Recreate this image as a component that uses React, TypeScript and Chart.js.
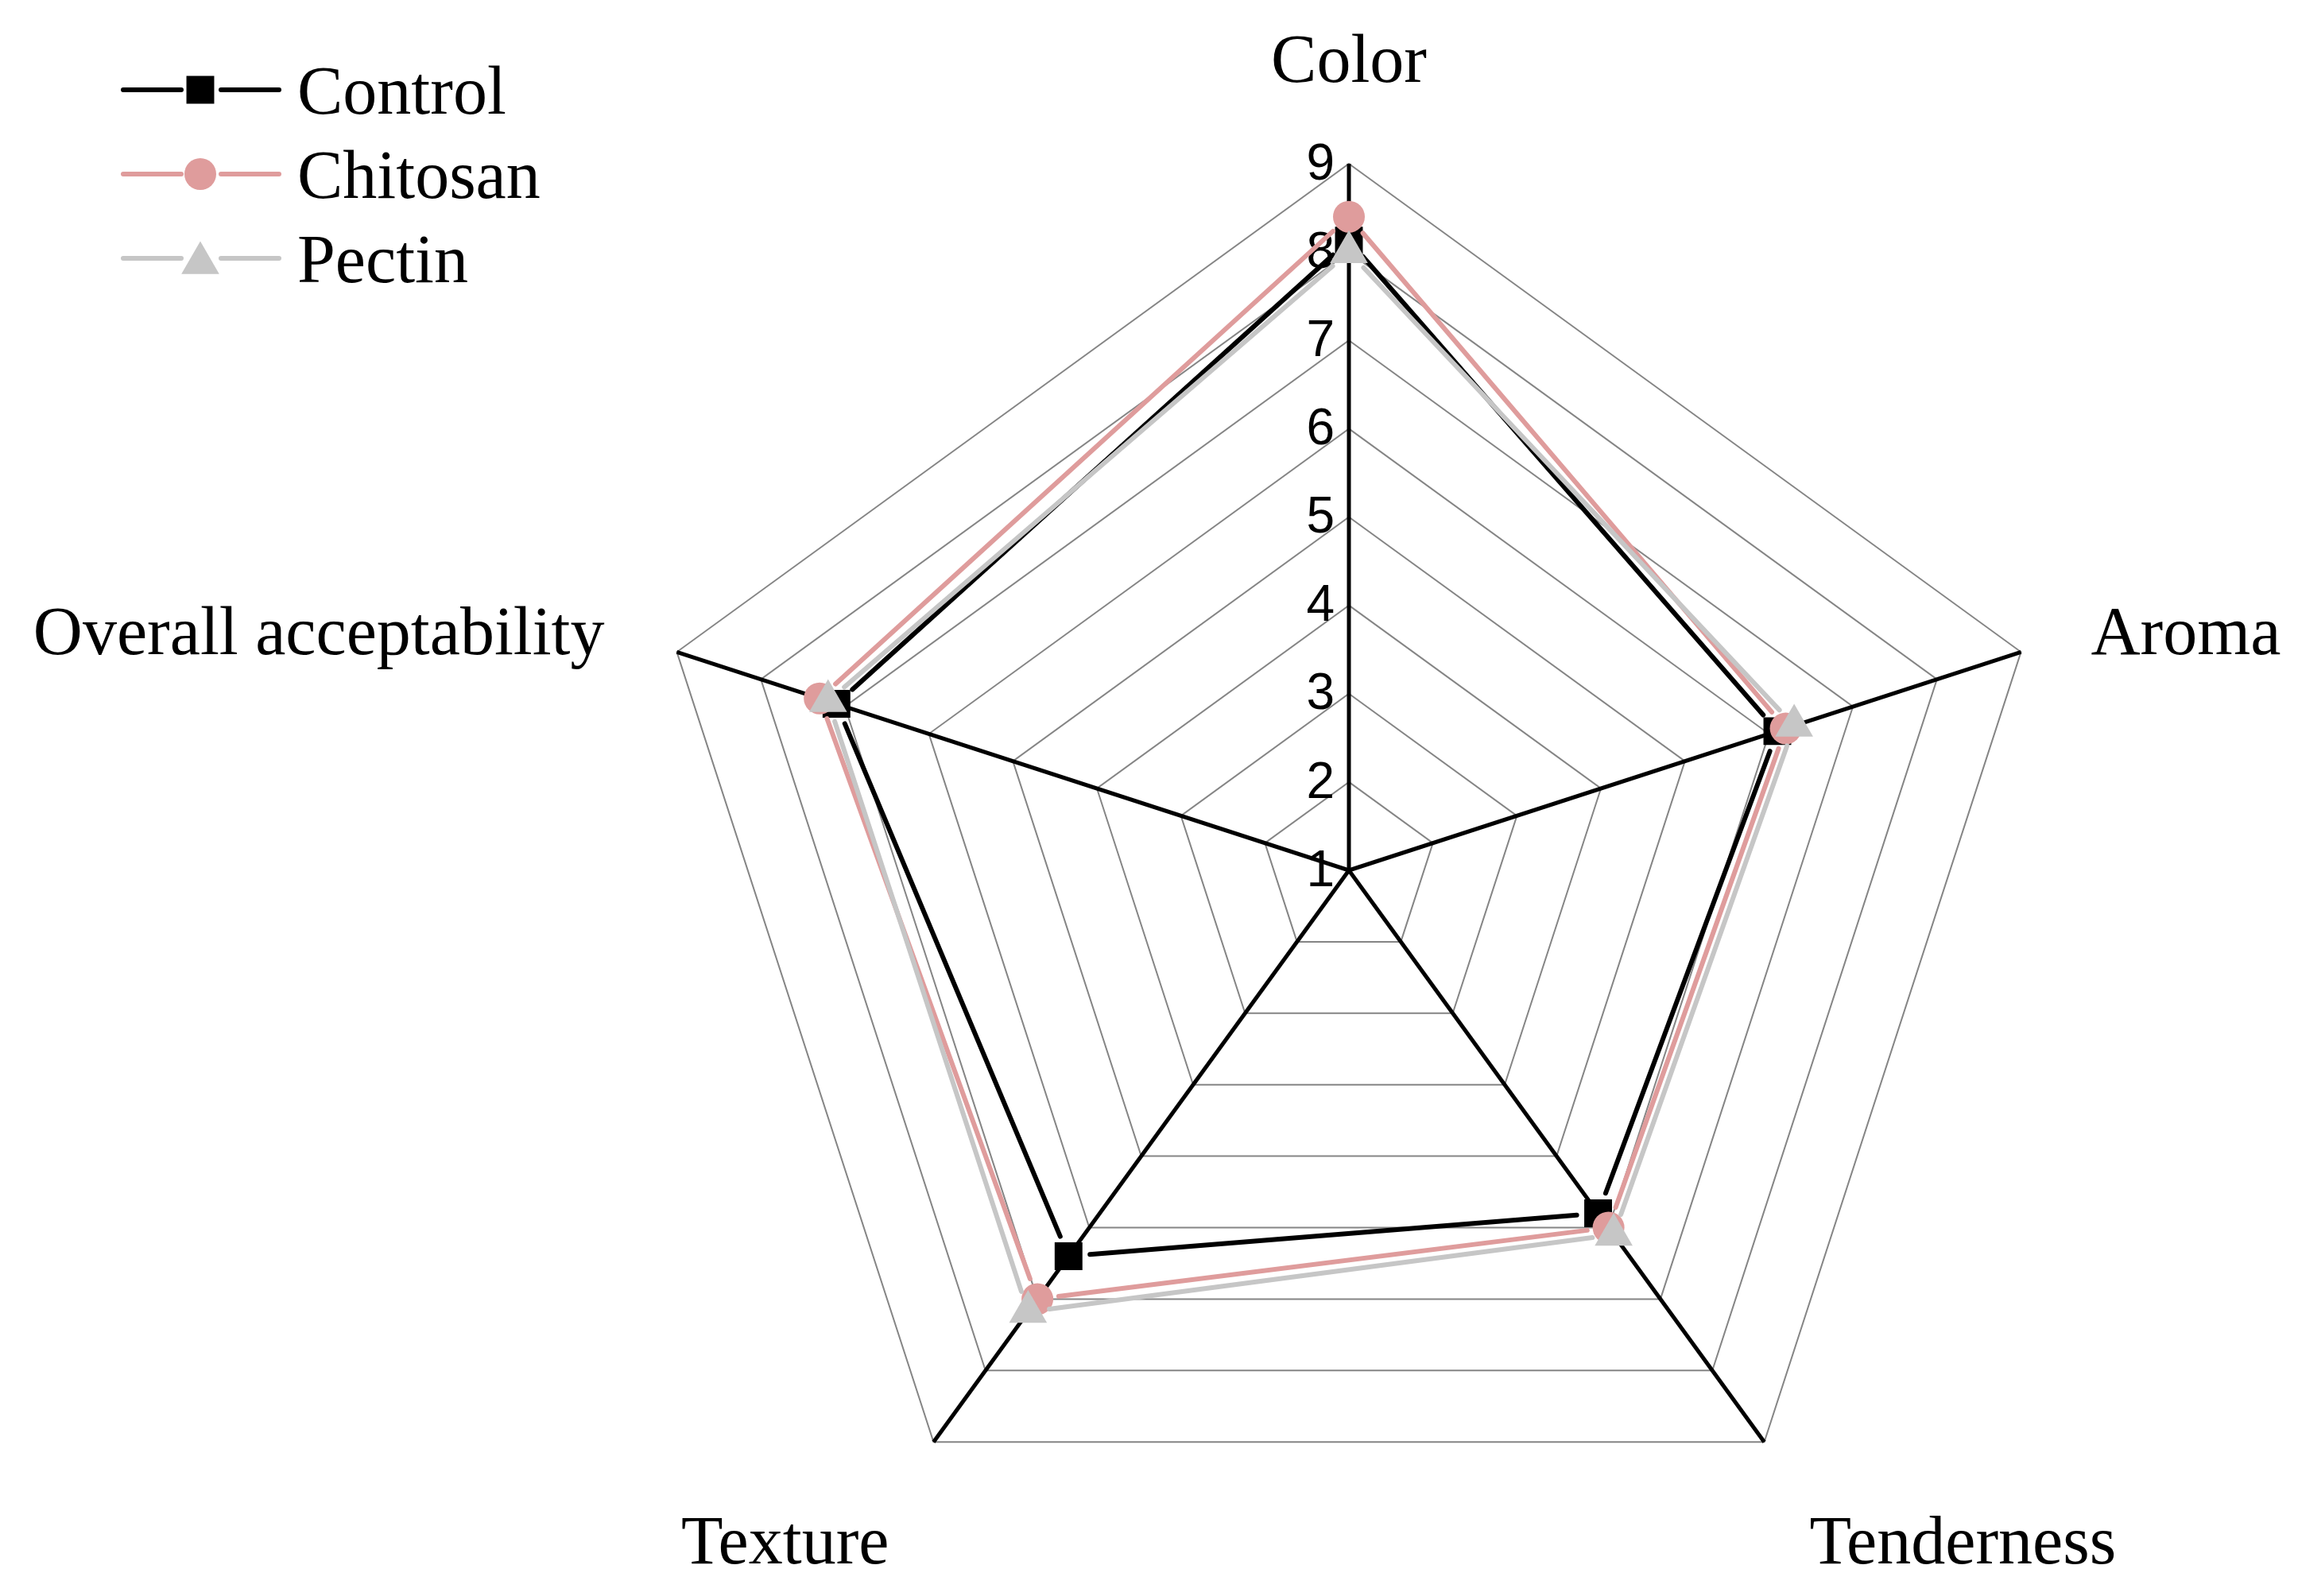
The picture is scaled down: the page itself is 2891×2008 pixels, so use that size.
import React, { useEffect, useRef } from "react";
import { Chart, registerables } from "chart.js";

Chart.register(...registerables);

// ---------- data ----------
const categories = ["Color", "Aroma", "Tenderness", "Texture", "Overall acceptability"];
const seriesNames = ["Control", "Chitosan", "Pectin"];
const controlValues = [8.13, 6.1, 5.8, 6.4, 7.1];
const chitosanValues = [8.4, 6.2, 6.0, 7.0, 7.3];
const pectinValues = [8.0, 6.3, 6.1, 7.18, 7.2];
const tickLabels = ["1", "2", "3", "4", "5", "6", "7", "8", "9"];
const scaleMin = 1;
const scaleMax = 9;

// ---------- style ----------
const W = 2891;
const H = 2008;
const SERIF = '"Liberation Serif", "Times New Roman", serif';
const SANS = '"Liberation Sans", Arial, sans-serif';
const COLORS = ["#000000", "#DF9C9C", "#C6C6C6"];
const STYLES = ["rect", "circle", "triangle"];
const RADII = [24.7, 20, 27.5];
const LINE_W = 6;
const GAP = 27;

function drawMarker(ctx: CanvasRenderingContext2D, style: string, x: number, y: number, r: number, color: string) {
  ctx.save();
  ctx.fillStyle = color;
  ctx.beginPath();
  if (style === "rect") {
    const s = Math.SQRT1_2 * r;
    ctx.rect(x - s, y - s, 2 * s, 2 * s);
  } else if (style === "circle") {
    ctx.arc(x, y, r, 0, Math.PI * 2);
  } else {
    let a = 0;
    ctx.moveTo(x + Math.sin(a) * r, y - Math.cos(a) * r);
    a += (2 * Math.PI) / 3;
    ctx.lineTo(x + Math.sin(a) * r, y - Math.cos(a) * r);
    a += (2 * Math.PI) / 3;
    ctx.lineTo(x + Math.sin(a) * r, y - Math.cos(a) * r);
    ctx.closePath();
  }
  ctx.fill();
  ctx.restore();
}

const gappedLines = {
  id: "gappedLines",
  beforeDatasetDraw(chart: any, args: any) {
    const ds = chart.data.datasets[args.index];
    const pts = args.meta.data;
    const ctx = chart.ctx;
    ctx.save();
    ctx.strokeStyle = ds.borderColor;
    ctx.lineWidth = LINE_W;
    ctx.lineCap = "round";
    for (let i = 0; i < pts.length; i++) {
      const a = pts[i];
      const b = pts[(i + 1) % pts.length];
      const dx = b.x - a.x;
      const dy = b.y - a.y;
      const len = Math.hypot(dx, dy);
      if (len <= 2 * GAP) continue;
      const ux = dx / len;
      const uy = dy / len;
      ctx.beginPath();
      ctx.moveTo(a.x + ux * GAP, a.y + uy * GAP);
      ctx.lineTo(b.x - ux * GAP, b.y - uy * GAP);
      ctx.stroke();
    }
    ctx.restore();
  },
};

const tickText = {
  id: "tickText",
  beforeDatasetsDraw(chart: any) {
    const scale = chart.scales.r;
    const ctx = chart.ctx;
    ctx.save();
    ctx.font = `64px ${SANS}`;
    ctx.fillStyle = "#000";
    ctx.textAlign = "right";
    ctx.textBaseline = "middle";
    tickLabels.forEach((t) => {
      const p = scale.getPointPositionForValue(0, Number(t));
      ctx.fillText(t, p.x - 18, p.y + 2);
    });
    ctx.restore();
  },
};

const labelsAndLegend = {
  id: "labelsAndLegend",
  afterDraw(chart: any) {
    const scale = chart.scales.r;
    const ctx = chart.ctx;
    ctx.save();
    ctx.font = `86px ${SERIF}`;
    ctx.fillStyle = "#000";
    ctx.textBaseline = "alphabetic";
    const offs = [
      { dx: 0, dy: -103, align: "center" },
      { dx: 88, dy: 3, align: "left" },
      { dx: 57, dy: 153, align: "left" },
      { dx: -56, dy: 153, align: "right" },
      { dx: -91, dy: 3, align: "right" },
    ];
    categories.forEach((c, i) => {
      const v = scale.getPointPosition(i, scale.drawingArea);
      ctx.textAlign = offs[i].align;
      ctx.fillText(c, v.x + offs[i].dx, v.y + offs[i].dy);
    });

    // legend
    const rows = [113, 219, 325];
    seriesNames.forEach((n, i) => {
      const y = rows[i];
      ctx.strokeStyle = COLORS[i];
      ctx.lineWidth = LINE_W;
      ctx.lineCap = "round";
      ctx.beginPath();
      ctx.moveTo(155, y);
      ctx.lineTo(228, y);
      ctx.moveTo(278, y);
      ctx.lineTo(351, y);
      ctx.stroke();
      drawMarker(ctx, STYLES[i], 252, y + (STYLES[i] === "triangle" ? 6 : 0), RADII[i], COLORS[i]);
      ctx.fillStyle = "#000";
      ctx.textAlign = "left";
      ctx.fillText(n, 374, y + 30);
    });
    ctx.restore();
  },
};

export default function App() {
  const ref = useRef<HTMLCanvasElement | null>(null);
  useEffect(() => {
    if (!ref.current) return;
    const values = [controlValues, chitosanValues, pectinValues];
    const chart = new Chart(ref.current, {
      type: "radar",
      data: {
        labels: categories,
        datasets: seriesNames.map((name, i) => ({
          label: name,
          data: values[i],
          borderColor: COLORS[i],
          backgroundColor: COLORS[i],
          borderWidth: LINE_W,
          showLine: false,
          fill: false,
          pointStyle: STYLES[i] as any,
          pointRadius: RADII[i],
          pointHoverRadius: RADII[i],
          pointBackgroundColor: COLORS[i],
          pointBorderWidth: 0,
          order: 2 - i,
        })),
      },
      options: {
        responsive: false,
        animation: false,
        events: [],
        layout: { padding: { top: 206, bottom: 24, left: 808, right: 305 } },
        plugins: {
          legend: { display: false },
          tooltip: { enabled: false },
        },
        scales: {
          r: {
            min: scaleMin,
            max: scaleMax,
            beginAtZero: false,
            ticks: { display: false, stepSize: 1 },
            pointLabels: { display: false },
            grid: { color: "#858585", lineWidth: 2 },
            angleLines: { color: "#000000", lineWidth: 5 },
          },
        },
      },
      plugins: [gappedLines, tickText, labelsAndLegend],
    });
    return () => chart.destroy();
  }, []);
  return (
    <div style={{ position: "fixed", left: 0, top: 0, width: W, height: H, background: "#fff" }}>
      <canvas ref={ref} width={W} height={H} style={{ width: W, height: H, display: "block" }} />
    </div>
  );
}
